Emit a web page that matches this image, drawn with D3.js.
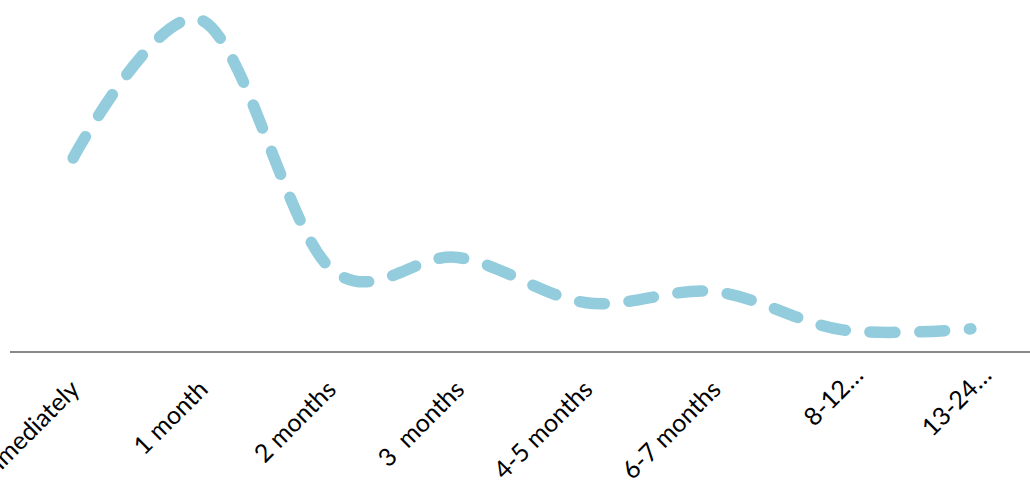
<!DOCTYPE html>
<html>
<head>
<meta charset="utf-8">
<script src="https://cdn.jsdelivr.net/npm/d3@7"></script>
<style>
  html, body { margin: 0; padding: 0; background: #ffffff; }
  svg { display: block; }
  text { white-space: pre; }
</style>
</head>
<body>
<div id="chart"></div>
<script>
// Time-to-event categories and their shares
const categories = ["Immediately", "1 month", "2 months", "3  months", "4-5 months", "6-7 months", "8-12\u2026", "13-24\u2026"];
const values = [19.3, 33.0, 8.4, 9.4, 4.9, 6.0, 2.2, 2.3];

const width = 1030, height = 484;
const axisY = 352;

const svg = d3.select("#chart").append("svg")
  .attr("width", width)
  .attr("height", height);

const x = d3.scalePoint()
  .domain(categories)
  .range([9, 1035])
  .padding(0.5);

const y = d3.scaleLinear()
  .domain([0, 35])
  .range([axisY, 0]);

// Category axis baseline
svg.append("line")
  .attr("x1", 10).attr("x2", width)
  .attr("y1", axisY).attr("y2", axisY)
  .attr("stroke", "#898989")
  .attr("stroke-width", 1.8);

// Smoothed dashed series line
const line = d3.line()
  .x((d, i) => x(categories[i]))
  .y(d => y(d))
  .curve(d3.curveCardinal.tension(0));

const path = svg.append("path")
  .datum(values)
  .attr("d", line)
  .attr("fill", "none")
  .attr("stroke", "#93CDDD")
  .attr("stroke-width", 11.5)
  .attr("stroke-linecap", "round");

// Even dash rhythm: 23 full dash periods, then a short closing dot
const total = path.node().getTotalLength();
const period = (total - 2) / 23;
path.attr("stroke-dasharray", `${period / 2} ${period / 2}`);

// Rotated category labels; truncated ones sit centred in the label slot
svg.append("g")
  .selectAll("text")
  .data(categories)
  .join("text")
  .attr("transform", d => `translate(${x(d) + 8},${391}) rotate(-45)`)
  .attr("text-anchor", "end")
  .attr("dx", d => d.endsWith("\u2026") ? 20 : 0)
  .attr("font-family", "Lato, 'Open Sans', sans-serif")
  .attr("font-size", 25)
  .attr("fill", "#000000")
  .text(d => d);
</script>
</body>
</html>
